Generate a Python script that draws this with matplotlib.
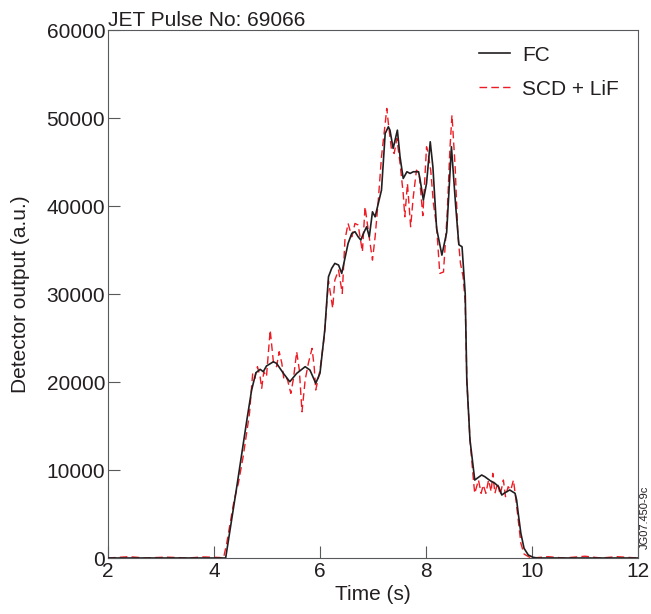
import matplotlib
matplotlib.use("Agg")
import matplotlib.pyplot as plt

plt.rcParams['font.family'] = ['Liberation Sans', 'DejaVu Sans']

# ---- data ----
fc_t = [2.0, 4.22, 4.43, 4.62, 4.71, 4.79, 4.87, 4.93, 4.99, 5.12, 5.18, 5.31, 5.43, 5.56,
        5.72, 5.81, 5.92, 6.00, 6.09, 6.16, 6.22, 6.28, 6.35, 6.41, 6.47, 6.53, 6.60, 6.66,
        6.72, 6.77, 6.82, 6.88, 6.93, 6.99, 7.04, 7.10, 7.16, 7.23, 7.29, 7.32, 7.38, 7.46,
        7.51, 7.57, 7.64, 7.70, 7.76, 7.86, 7.89, 7.95, 8.01, 8.08, 8.13, 8.20, 8.30, 8.39,
        8.48, 8.56, 8.62, 8.68, 8.74, 8.77, 8.83, 8.92, 8.99, 9.05, 9.11, 9.21, 9.30, 9.37,
        9.43, 9.49, 9.58, 9.68, 9.71, 9.74, 9.79, 9.85, 9.93, 10.02, 10.1, 12.0]
fc_y = [0, 0, 8100, 15680, 19090, 21050, 21440, 21170, 21820, 22300, 22120, 20980, 20030, 20980,
        21740, 21360, 19850, 21000, 25900, 31960, 32910, 33480, 33290, 32340, 34050, 35750, 36890, 37080,
        36500, 36130, 36890, 37640, 36500, 39340, 38770, 40290, 41800, 48250, 49000, 48620, 46540, 48620,
        45590, 43130, 43890, 43700, 43890, 43890, 42940, 40670, 42560, 47300, 44450, 37450, 34420, 37000,
        46730, 40000, 35600, 35370, 30000, 20220, 13410, 8860, 9170, 9430, 9240, 8790, 8490, 8100,
        7160, 7420, 7730, 7350, 6590, 5080, 2800, 1100, 340, 80, 0, 0]

scd_t = [2.0, 2.4, 2.7, 3.1, 3.5, 3.8, 4.1, 4.18, 4.24, 4.38, 4.46, 4.55, 4.67, 4.73, 4.77,
         4.82, 4.87, 4.90, 4.94, 4.99, 5.06, 5.12, 5.18, 5.23, 5.28, 5.32, 5.38, 5.45, 5.50,
         5.56, 5.61, 5.66, 5.72, 5.78, 5.85, 5.89, 5.92, 6.00, 6.08, 6.16, 6.24, 6.28, 6.35,
         6.42, 6.47, 6.53, 6.60, 6.66, 6.72, 6.80, 6.85, 6.91, 6.99, 7.04, 7.10, 7.16, 7.23,
         7.26, 7.29, 7.35, 7.40, 7.45, 7.51, 7.57, 7.60, 7.65, 7.71, 7.76, 7.82, 7.87, 7.94,
         8.01, 8.04, 8.09, 8.14, 8.20, 8.26, 8.33, 8.40, 8.45, 8.49, 8.55, 8.60, 8.65, 8.70,
         8.74, 8.77, 8.83, 8.90, 8.92, 8.99, 9.04, 9.08, 9.13, 9.18, 9.23, 9.26, 9.30, 9.35,
         9.40, 9.46, 9.50, 9.55, 9.60, 9.65, 9.69, 9.74, 9.79, 9.85, 9.95, 10.0, 10.3, 10.6,
         11.0, 11.3, 11.6, 12.0]
scd_y = [0, 150, 0, 100, 0, 120, 60, 0, 1670, 6590, 8490, 11510, 16440, 20980, 20410,
         21740, 20600, 19280, 21170, 20600, 25900, 22300, 21740, 23440, 22120, 20220, 20410, 18710, 20410,
         23440, 21360, 16620, 20220, 22120, 23820, 21740, 19090, 21360, 25140, 31500, 28370, 31580, 32720,
         30070, 36130, 38020, 36500, 38020, 37830, 34800, 39910, 37260, 33850, 36500, 40670, 45590, 49380,
         51090, 49380, 46350, 45970, 47680, 44830, 41420, 38770, 42560, 37640, 41040, 44070, 43700, 38900,
         46730, 46000, 44000, 40290, 37640, 32340, 32500, 39160, 46350, 50330, 44450, 36890, 33480, 31960,
         29000, 20220, 13410, 8500, 7350, 8860, 7350, 8300, 7350, 8860, 7540, 9620, 7350, 8490,
         7160, 8860, 6970, 8100, 7730, 8860, 6970, 4320, 1670, 450, 100, 0, 150, 0,
         200, 0, 150, 0]

x_ticks = [2, 4, 6, 8, 10, 12]
y_ticks = [0, 10000, 20000, 30000, 40000, 50000, 60000]

TXT = '#231f20'
fig = plt.figure(figsize=(6.51, 6.14), dpi=100)
ax = fig.add_axes([108/651, 1-558/614, 530/651, 528/614])

ax.plot(fc_t, fc_y, color=TXT, lw=1.2, label='FC', zorder=3)
ax.plot(scd_t, scd_y, color='#ed1c24', lw=1.0, dashes=(5.5, 3), label='SCD + LiF', zorder=2)

ax.set_xlim(2, 12)
ax.set_ylim(0, 60000)
ax.set_xticks(x_ticks)
ax.set_yticks(y_ticks)
ax.tick_params(direction='in', length=8.5, width=0.8, color='#58595b', labelsize=15,
               labelcolor=TXT, top=False, right=False)
ax.tick_params(axis='y', pad=2)
ax.tick_params(axis='x', pad=3)
for s in ax.spines.values():
    s.set_color('#58595b')
    s.set_linewidth(0.8)

ax.set_xlabel('Time (s)', fontsize=15, color=TXT, labelpad=3)
ax.set_ylabel('Detector output (a.u.)', fontsize=15, color=TXT, labelpad=12)
ax.set_title('JET Pulse No: 69066', loc='left', fontsize=15, color=TXT, pad=1)

leg = ax.legend(loc='upper right', bbox_to_anchor=(1.0, 1.006), frameon=False, fontsize=15,
                handlelength=1.5, handletextpad=0.6, labelspacing=0.72)
for t in leg.get_texts():
    t.set_color(TXT)

fig.text(645/651, 1-517/614, 'JG07.450-9c', rotation=90, fontsize=8, color=TXT,
         ha='center', va='center')

fig.savefig('out.png', dpi=100)
